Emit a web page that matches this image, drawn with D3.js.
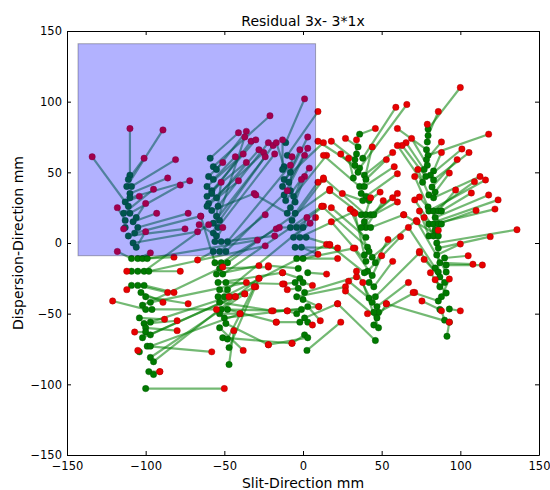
<!DOCTYPE html>
<html>
<head>
<meta charset="utf-8">
<script src="https://cdnjs.cloudflare.com/ajax/libs/d3/7.8.5/d3.min.js"></script>
<style>
body { margin: 0; background: #fff; }
svg text { font-family: "DejaVu Sans", sans-serif; fill: #000; }
</style>
</head>
<body>
<div id="chart"></div>
<script>

/* each entry: [green x, green y, red x, red y] in mm, grouped by slit column */
var colA = [
  [-110, 48, -110, 81], [-111, 45, -101, 60], [-112, 40, -89, 80], [-109, 40, -81, 59],
  [-110, 35, -86, 46], [-110, 32, -72, 44], [-113, 29, -104, 33], [-111, 26, -134, 61],
  [-114, 21, -95, 38], [-110, 21, -78, 41], [-106, 18, -100, 28], [-113, 16, -118, 25],
  [-108, 15, -93, 21], [-105, 11, -73, 21], [-113, 11, -114, 10], [-107, 7, -65, 19],
  [-111, 5, -75, 10], [-108, 0, -67, 8], [-106, -3, -100, 8], [-109, -11, -118, -6],
  [-105, -11, -97, -7], [-102, -11, -82, -10], [-99, -11, -29, 2], [-109, -20, -112, -20],
  [-105, -20, -78, -20], [-101, -20, -60, 13], [-98, -20, -24, -2], [-109, -30, -112, -33],
  [-105, -30, -86, -35], [-101, -30, -82, -35], [-103, -35, -89, -42], [-100, -38, -73, -43],
  [-102, -44, -51, -17], [-97, -42, -36, -28], [-100, -47, -121, -41], [-96, -47, -55, -47],
  [-104, -53, -88, -54], [-101, -57, -80, -55], [-97, -56, -47, -38], [-100, -60, -80, -62],
  [-100, -63, -107, -63], [-97, -65, -30, -31], [-102, -67, -43, -38], [-99, -73, -58, -77],
  [-104, -77, -105, -76], [-97, -73, -40, -50], [-97, -81, -37, -36], [-95, -84, -28, -25],
  [-98, -91, -91, -91], [-95, -93, -91, -91], [-100, -103, -50, -103]
];

var colB = [
  [-59, 60, -41, 78], [-57, 54, -21, 90], [-55, 52, -36, 79], [-60, 47, -51, 57],
  [-57, 45, -43, 61], [-61, 40, -38, 63], [-58, 37, -36, 57], [-58, 35, -33, 72],
  [-61, 33, -30, 73], [-55, 32, -28, 66], [-60, 28, -25, 64], [-54, 26, -22, 71],
  [-61, 26, -41, 44], [-58, 23, -31, 35], [-55, 19, -52, 43], [-53, 16, -19, 69],
  [-57, 14, -24, 61], [-54, 11, -18, 63], [-57, 7, -37, 75], [-55, 5, -66, 13],
  [-56, 1, -51, 11], [-52, 1, -18, 5], [-48, 1, -8, 55], [-57, -6, -67, -12],
  [-53, -6, -24, 20], [-49, -6, -10, 37], [-56, -14, -65, 19], [-52, -14, -17, 10],
  [-48, -14, 17, 38], [-55, -22, -28, -16], [-53, -18, -22, -17], [-51, -22, 12, 26],
  [-54, -28, -13, -21], [-49, -28, -12, -29], [-53, -33, -43, -38], [-48, -33, 8, 18],
  [-54, -38, -37, -36], [-50, -38, 15, -1], [-53, -42, -19, -48], [-52, -47, -10, -48],
  [-48, -47, -17, -56], [-53, -50, -40, -50], [-50, -53, 10, -45], [-53, -60, -38, -76],
  [-49, -57, -22, -72], [-51, -67, -7, -71], [-48, -68, -31, -31], [-47, -74, -28, -25],
  [-47, -86, -44, -62]
];

var colC = [
  [-11, 71, 1, 102], [-10, 62, 9.5, 93], [-12, 54, -17, 71], [-13, 52, -13, 73],
  [-8, 50, 3, 75], [-12, 45, 13, 71], [-9, 43, 3, 67], [-13, 40, -2, 66],
  [-8, 37, -7, 61], [-12, 34, 1, 62], [-6, 33, 15, 62], [-11, 30, 4, 53],
  [-5, 29, 1, 47], [-8, 25, -1, 45], [-10, 21, -30, 34], [-5, 21, 9.5, 43],
  [-7, 16, 13, 45], [-8, 11, -15, 11], [-4, 11, 13, 26], [0, 11, 2.5, 18],
  [-6, 4, 4.5, 14], [-2, 4, 32, 22], [2, 4, 17, -1], [-5, -3, 22, -3.5],
  [-1, -3, 9.5, -8], [-4, -11, 22, -11], [0, -11, 33, -3.6], [-3, -18, -22, -16],
  [3, -21, 15, -22], [-2, -25, -13, -21], [-5, -28, -13, -29], [0, -28, 6, -30],
  [-3, -32, -10, -33], [1, -35, 34, -24], [-4, -38, 27, -31], [0, -40, 10, -45],
  [3, -45, 11, -55], [-1, -47, -20, -48], [-4, -50, -10, -48], [1, -53, 22, -43],
  [-2, -56, -17, -56], [3, -56, 6, -58], [1, -65, -7, -71], [3, -67, -22, -72],
  [2.5, -76, 24, -56]
];

var colD = [
  [36, 77, 46, 81], [35, 68, 27, 74], [34, 63, 34, 73], [33, 59, 18, 72],
  [38, 60, 59, 96], [33, 55, 9.5, 72], [36, 53, 66, 98], [35, 50, 24, 63],
  [39, 48, 57, 64], [32, 46, 29, 60], [40, 45, 53, 59], [36, 40, 13, 62],
  [39, 40, 58, 54], [37, 35, 44, 68], [40, 33, 60, 49], [38, 30, 25, 35],
  [42, 30, 49, 36], [37, 20, 17, 37], [40, 20, 13, 46], [43, 20, 60, 35],
  [45, 20, 60, 29], [39, 15, 57, 32], [40, 11, 51, 30], [37, 11, 43, 32],
  [43, 11, 64, 20], [40, 4, 18, 25], [41, -3, 12, 26], [42, -6, 30, 24],
  [39, -8.5, 33, 21], [44, -10, 72, 16], [40, -13, 18, 15], [46, -14, 54, 2.5],
  [41, -20, 62, 4.5], [44, -23, 32, -3.6], [39, -21, 17, -1.4], [42, -28, 50, -9],
  [45, -31, 57, -13], [46, -38, 74, -7], [42, -39, 29, -27], [44, -42, 34, -20],
  [47, -45, 67, -28], [48, -49, 71, -35], [45, -49, 41, -50], [47, -53, 27, -34],
  [45, -58, 53, -43], [48, -60, 38, -28], [46, -69, 22, -43]
];

var colE = [
  [79.5, 80.6, 100, 110], [79.5, 76, 86, 93], [79, 71.5, 79, 84], [78.5, 66, 60, 81],
  [79.5, 62, 118, 77], [78.5, 59, 88, 71.5], [79, 55, 69, 74], [77, 52, 65.5, 71],
  [83, 51, 88, 64], [81, 48, 101, 66.5], [78, 47, 63, 69], [83, 44.6, 105.5, 64],
  [76, 43, 60, 69], [82, 39.6, 98, 59], [84, 36, 93, 49.5], [80, 34, 73, 52],
  [83, 32, 112.5, 47], [79.5, 25.5, 71, 47], [80, 22.6, 116, 44.6], [83, 22.6, 109, 43.4],
  [86, 22.6, 97, 37.5], [88, 22.6, 107, 35.4], [84, 18, 118, 34], [80, 13.4, 124, 30.5],
  [83, 13.4, 122, 24], [86, 13.4, 110, 23], [88, 13.4, 74, 32.5], [84, 9, 71, 30.5],
  [80, 5, 74, 22.6], [83, 5, 77, 18], [86, 5, 64, 20], [85, 0, 136, 9.4],
  [86, -3.6, 119, 4.5], [85, -8.5, 100, -0.7], [90, -10.6, 105, -9], [87, -14, 108, -15],
  [91, -15.6, 114, -15.6], [84, -17.7, 67, 11], [86, -20.5, 86, 9], [91, -20.5, 72.5, 15],
  [87, -24, 74, -6], [90, -28, 77, -11.6], [87, -31, 81, -21], [91, -35.4, 84, -26],
  [88, -38, 93, -25.5], [86, -41, 70, -35], [93, -46.7, 100, -48], [87, -47, 75.6, -41],
  [90, -54.6, 88, -48], [93, -56, 53, -43], [91.5, -66, 93, -56]
];

/* highlighted region: [x0, x1, y0, y1] */
var boxRegion = [-143, 8, -9, 141];

var xTicks = [-150, -100, -50, 0, 50, 100, 150],
    yTicks = [-150, -100, -50, 0, 50, 100, 150];

var titleText = "Residual 3x- 3*1x",
    xLabel = "Slit-Direction mm",
    yLabel = "Dispersion-Direction mm";

var margin = {top: 31, right: 11, bottom: 35, left: 67},
    width = 550 - margin.left - margin.right,
    height = 490 - margin.top - margin.bottom;

var pairs = [].concat(colA, colB, colC, colD, colE);

var x = d3.scaleLinear().domain([-150, 150]).range([0, width]),
    y = d3.scaleLinear().domain([-150, 150]).range([height, 0]);

var svg = d3.select("#chart").append("svg")
    .attr("width", 550)
    .attr("height", 490);

svg.append("rect").attr("width", 550).attr("height", 490).attr("fill", "#fff");

var g = svg.append("g")
    .attr("transform", "translate(" + margin.left + "," + margin.top + ")");

/* residual vectors */
g.append("g").selectAll("line")
    .data(pairs)
  .enter().append("line")
    .attr("x1", function(d) { return x(d[0]); })
    .attr("y1", function(d) { return y(d[1]); })
    .attr("x2", function(d) { return x(d[2]); })
    .attr("y2", function(d) { return y(d[3]); })
    .attr("stroke", "#008000")
    .attr("stroke-opacity", 0.55)
    .attr("stroke-width", 2.2);

g.append("g").selectAll("circle")
    .data(pairs)
  .enter().append("circle")
    .attr("cx", function(d) { return x(d[0]); })
    .attr("cy", function(d) { return y(d[1]); })
    .attr("r", 3.2)
    .attr("fill", "#007a00")
    .attr("stroke", "#005000")
    .attr("stroke-width", 0.4);

g.append("g").selectAll("circle")
    .data(pairs)
  .enter().append("circle")
    .attr("cx", function(d) { return x(d[2]); })
    .attr("cy", function(d) { return y(d[3]); })
    .attr("r", 3.2)
    .attr("fill", "#e80000")
    .attr("stroke", "#a00000")
    .attr("stroke-width", 0.4);

/* translucent box over the data */
g.append("rect")
    .attr("x", x(boxRegion[0]))
    .attr("y", y(boxRegion[3]))
    .attr("width", x(boxRegion[1]) - x(boxRegion[0]))
    .attr("height", y(boxRegion[2]) - y(boxRegion[3]))
    .attr("fill", "#0000ff")
    .attr("fill-opacity", 0.3)
    .attr("stroke", "#000")
    .attr("stroke-opacity", 0.3)
    .attr("stroke-width", 1);

/* axes, ticks pointing inward on all four sides */
function styleAxis(sel) {
  sel.selectAll("text").attr("font-family", "DejaVu Sans").attr("font-size", 11.5);
  sel.selectAll("path, line").attr("stroke", "#000");
}

g.append("g")
    .attr("transform", "translate(0," + height + ")")
    .call(d3.axisBottom(x).tickValues(xTicks).tickSizeInner(-4).tickSizeOuter(0).tickPadding(7))
    .call(styleAxis);

g.append("g")
    .call(d3.axisLeft(y).tickValues(yTicks).tickSizeInner(-4).tickSizeOuter(0).tickPadding(5))
    .call(styleAxis);

g.append("g")
    .call(d3.axisTop(x).tickValues(xTicks).tickSizeInner(-4).tickSizeOuter(0).tickFormat(""))
    .call(styleAxis);

g.append("g")
    .attr("transform", "translate(" + width + ",0)")
    .call(d3.axisRight(y).tickValues(yTicks).tickSizeInner(-4).tickSizeOuter(0).tickFormat(""))
    .call(styleAxis);

svg.append("text")
    .attr("x", margin.left + width / 2)
    .attr("y", 26)
    .attr("text-anchor", "middle")
    .attr("font-size", 14)
    .text(titleText);

svg.append("text")
    .attr("x", margin.left + width / 2)
    .attr("y", 488)
    .attr("text-anchor", "middle")
    .attr("font-size", 14)
    .text(xLabel);

svg.append("text")
    .attr("transform", "translate(23," + (margin.top + height / 2) + ") rotate(-90)")
    .attr("text-anchor", "middle")
    .attr("font-size", 14)
    .text(yLabel);

</script>
</body>
</html>
